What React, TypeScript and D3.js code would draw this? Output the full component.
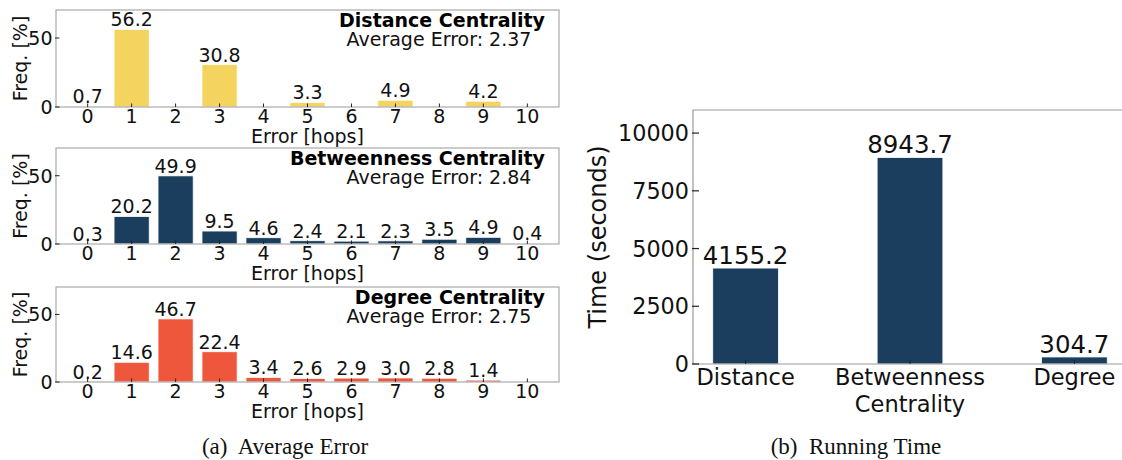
import React, { useEffect, useRef } from "react";
import * as d3 from "d3";

const hops = [0, 1, 2, 3, 4, 5, 6, 7, 8, 9, 10];
const distanceFreq: (number | null)[] = [0.7, 56.2, null, 30.8, null, 3.3, null, 4.9, null, 4.2, null];
const betweennessFreq: (number | null)[] = [0.3, 20.2, 49.9, 9.5, 4.6, 2.4, 2.1, 2.3, 3.5, 4.9, 0.4];
const degreeFreq: (number | null)[] = [0.2, 14.6, 46.7, 22.4, 3.4, 2.6, 2.9, 3.0, 2.8, 1.4, null];
const panelTitles = ["Distance Centrality", "Betweenness Centrality", "Degree Centrality"];
const avgErrors = ["2.37", "2.84", "2.75"];
const freqTicks = [0, 50];

const methods = [["Distance"], ["Betweenness", "Centrality"], ["Degree"]];
const runTimes = [4155.2, 8943.7, 304.7];
const timeTicks = [0, 2500, 5000, 7500, 10000];

const COLORS = ["#f4d35e", "#1b3d5e", "#ee573b"];
const FONT = "DejaVu Sans, sans-serif";
const FS = 19;

export default function App() {
  const ref = useRef<SVGSVGElement>(null);

  useEffect(() => {
    const svg = d3.select(ref.current);
    svg.selectAll("*").remove();

    // ---------- Left: three histograms ----------
    const L = 56, R = 559;
    const tops = [10, 148, 287];
    const bottoms = [107, 244, 382];
    const series = [distanceFreq, betweennessFreq, degreeFreq];
    const x = d3.scaleLinear().domain([-0.72, 10.72]).range([L, R]);
    const bw = x(0.8) - x(0);

    series.forEach((vals, i) => {
      const g = svg.append("g");
      const y = d3.scaleLinear().domain([0, 70.3]).range([bottoms[i], tops[i]]);
      hops.forEach((h, j) => {
        const v = vals[j];
        if (v == null) return;
        g.append("rect")
          .attr("x", x(h) - bw / 2)
          .attr("y", y(v))
          .attr("width", bw)
          .attr("height", y(0) - y(v))
          .attr("fill", COLORS[i])
          .attr("stroke", "#ffffff")
          .attr("stroke-width", 0.8);
        g.append("text")
          .attr("x", x(h))
          .attr("y", y(v) - 3)
          .attr("text-anchor", "middle")
          .attr("font-family", FONT)
          .attr("font-size", FS)
          .attr("fill", "#111")
          .text(v.toFixed(1));
      });
      g.append("rect")
        .attr("x", L).attr("y", tops[i])
        .attr("width", R - L).attr("height", bottoms[i] - tops[i])
        .attr("fill", "none").attr("stroke", "#aaaaaa").attr("stroke-width", 1.2);
      freqTicks.forEach((t) => {
        g.append("line")
          .attr("x1", L - 1).attr("x2", L + 3.5)
          .attr("y1", y(t)).attr("y2", y(t))
          .attr("stroke", "#222").attr("stroke-width", 1);
        g.append("text")
          .attr("x", L - 3.5).attr("y", y(t))
          .attr("dy", "0.36em")
          .attr("text-anchor", "end")
          .attr("font-family", FONT).attr("font-size", FS).attr("fill", "#111")
          .text(String(t));
      });
      hops.forEach((h) => {
        g.append("line")
          .attr("x1", x(h)).attr("x2", x(h))
          .attr("y1", y(0)).attr("y2", y(0) - 3.5)
          .attr("stroke", "#222").attr("stroke-width", 1);
        g.append("text")
          .attr("x", x(h)).attr("y", bottoms[i] + 16)
          .attr("text-anchor", "middle")
          .attr("font-family", FONT).attr("font-size", FS).attr("fill", "#111")
          .text(String(h));
      });
      g.append("text")
        .attr("x", (L + R) / 2).attr("y", bottoms[i] + 35.5)
        .attr("text-anchor", "middle")
        .attr("font-family", FONT).attr("font-size", FS).attr("fill", "#111")
        .text("Error [hops]");
      const cy = (tops[i] + bottoms[i]) / 2;
      g.append("text")
        .attr("transform", `translate(27,${cy}) rotate(-90)`)
        .attr("text-anchor", "middle")
        .attr("font-family", FONT).attr("font-size", FS).attr("fill", "#111")
        .text("Freq. [%]");
      g.append("text")
        .attr("x", 545).attr("y", tops[i] + 17)
        .attr("text-anchor", "end")
        .attr("font-family", FONT).attr("font-size", FS).attr("font-weight", "bold").attr("fill", "#000")
        .text(panelTitles[i]);
      g.append("text")
        .attr("x", 439).attr("y", tops[i] + 36)
        .attr("text-anchor", "middle")
        .attr("font-family", FONT).attr("font-size", FS).attr("fill", "#111")
        .text(`Average Error: ${avgErrors[i]}`);
    });

    svg.append("text")
      .attr("x", 285).attr("y", 454)
      .attr("text-anchor", "middle")
      .attr("font-family", "Liberation Serif, serif").attr("font-size", 23).attr("fill", "#111")
      .attr("xml:space", "preserve")
      .text("(a)  Average Error");

    // ---------- Right: running time ----------
    const RL = 693, RR = 1127, RT = 110, RB = 364;
    const xr = d3.scaleLinear().domain([-0.32, 2.32]).range([RL, RR]);
    const yr = d3.scaleLinear().domain([0, 11000]).range([RB, RT]);
    const rbw = xr(0.4) - xr(0);
    const gr = svg.append("g");
    runTimes.forEach((v, j) => {
      gr.append("rect")
        .attr("x", xr(j) - rbw / 2).attr("y", yr(v))
        .attr("width", rbw).attr("height", yr(0) - yr(v))
        .attr("fill", COLORS[1])
        .attr("stroke", "#ffffff").attr("stroke-width", 0.8);
      gr.append("text")
        .attr("x", xr(j)).attr("y", yr(v) - 4)
        .attr("text-anchor", "middle")
        .attr("font-family", FONT).attr("font-size", 24.5).attr("fill", "#111")
        .text(v.toFixed(1));
    });
    gr.append("path")
      .attr("d", `M${RR},${RT}H${RL}V${RB}H${RR}`)
      .attr("fill", "none").attr("stroke", "#999999").attr("stroke-width", 1.2);
    timeTicks.forEach((t) => {
      gr.append("line")
        .attr("x1", RL - 1).attr("x2", RL + 6)
        .attr("y1", yr(t)).attr("y2", yr(t))
        .attr("stroke", "#222").attr("stroke-width", 1.2);
      gr.append("text")
        .attr("x", RL - 4).attr("y", yr(t))
        .attr("dy", "0.36em")
        .attr("text-anchor", "end")
        .attr("font-family", FONT).attr("font-size", 22.3).attr("fill", "#111")
        .text(String(t));
    });
    methods.forEach((lines, j) => {
      gr.append("line")
        .attr("x1", xr(j)).attr("x2", xr(j))
        .attr("y1", RB).attr("y2", RB - 4)
        .attr("stroke", "#222").attr("stroke-width", 1);
      lines.forEach((ln, k) => {
        gr.append("text")
          .attr("x", xr(j)).attr("y", 385 + k * 27)
          .attr("text-anchor", "middle")
          .attr("font-family", FONT).attr("font-size", 22.5).attr("fill", "#111")
          .text(ln);
      });
    });
    gr.append("text")
      .attr("transform", `translate(606,${(RT + RB) / 2}) rotate(-90)`)
      .attr("text-anchor", "middle")
      .attr("font-family", FONT).attr("font-size", 24).attr("fill", "#111")
      .text("Time (seconds)");

    svg.append("text")
      .attr("x", 856).attr("y", 454)
      .attr("text-anchor", "middle")
      .attr("font-family", "Liberation Serif, serif").attr("font-size", 23).attr("fill", "#111")
      .attr("xml:space", "preserve")
      .text("(b)  Running Time");
  }, []);

  return (
    <svg
      ref={ref}
      width={1122}
      height={460}
      style={{ position: "absolute", left: 0, top: 0, background: "#fff" }}
    />
  );
}
